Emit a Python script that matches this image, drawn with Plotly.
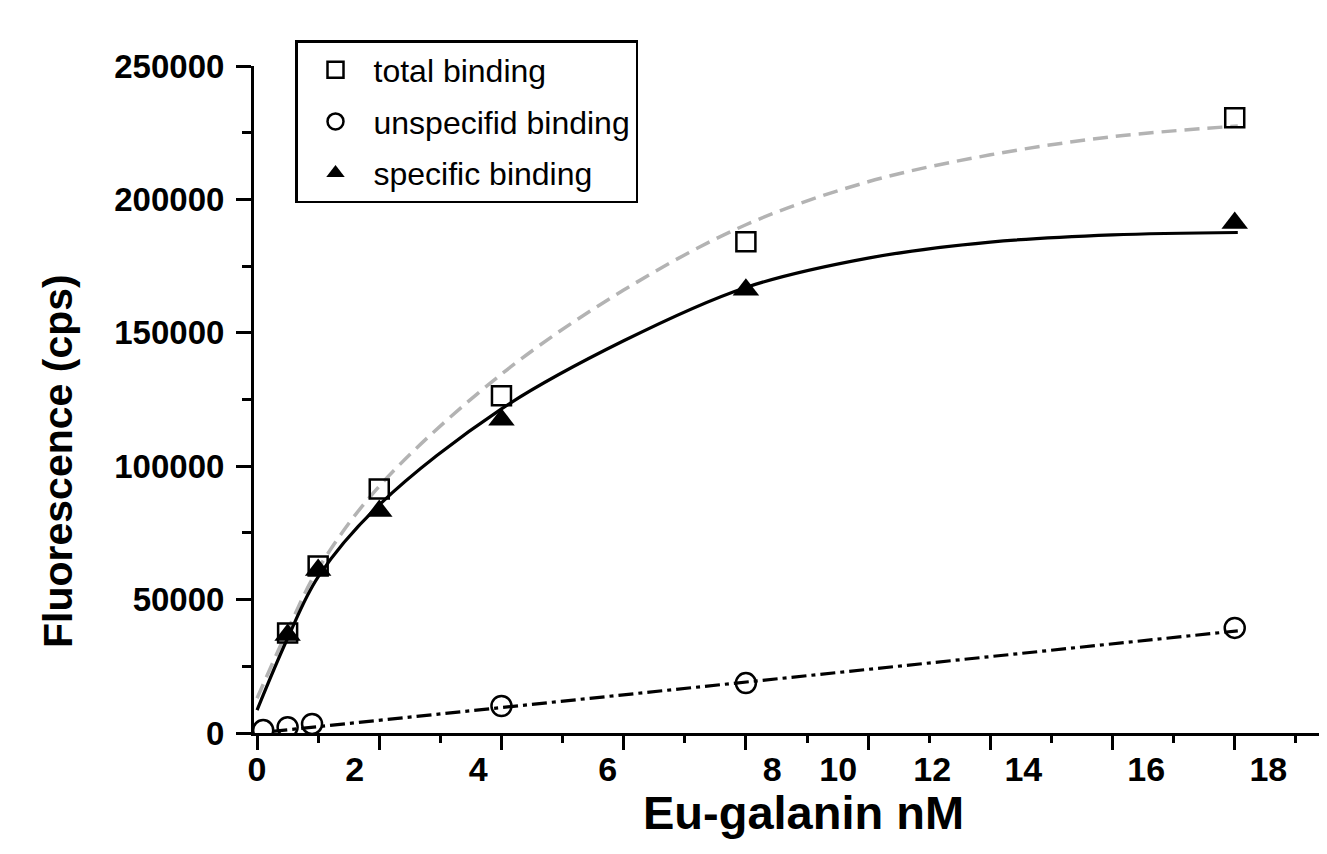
import plotly.graph_objects as go

# ---- data ----
conc = [0.5, 1, 2, 4, 8, 16]
total_binding = [37500, 62600, 91500, 126400, 184100, 230600]
specific_binding = [36700, 61100, 83200, 117400, 166100, 191200]

unspec_conc = [0.1, 0.5, 0.9, 4, 8, 16]
unspec_binding = [1100, 2200, 3400, 10100, 18700, 39400]

fit_x = [0, 0.5, 1, 2, 4, 6, 8, 10, 12, 14, 16.05]
total_fit = [13000, 38500, 61500, 92500, 134500, 166000, 190500, 206600, 216700, 223500, 227500]
specific_fit = [8600, 35500, 58500, 85500, 121500, 147000, 167000, 178000, 184000, 186700, 187600]

unspec_fit_x = [0.25, 16.05]
unspec_fit = [600, 38300]

x_major = [0, 2, 4, 6, 8, 10, 12, 14, 16]
x_minor = [1, 3, 5, 7, 9, 11, 13, 15, 17]
x_label_pos = [0, 1.6, 3.62, 5.74, 8.43, 9.51, 11.05, 12.54, 14.55, 16.55]
x_label_text = ["0", "2", "4", "6", "8", "10", "12", "14", "16", "18"]

y_major = [0, 50000, 100000, 150000, 200000, 250000]
y_major_text = ["0", "50000", "100000", "150000", "200000", "250000"]
y_minor = [25000, 75000, 125000, 175000, 225000]

FONT = "Liberation Sans, Arial, Helvetica, sans-serif"

# the page body adds an 8px offset; compensate so the plot lands where the reference has it
OFF = 8
W, H = 1327 - OFF, 854 - OFF
L, R, T, B = 254 - OFF, 0, 66 - OFF, 121
PW, PH = W - L - R, H - T - B


def px_x(px):
    return (px - OFF - L) / PW


def px_y(py):
    return (OFF + H - B - py) / PH


fig = go.Figure()

# fit curves
fig.add_trace(go.Scatter(x=fit_x, y=total_fit, mode="lines", showlegend=False,
                         line=dict(color="#b3b3b3", width=3.5, dash="15px,8px", shape="spline", smoothing=1.0),
                         hoverinfo="skip"))
fig.add_trace(go.Scatter(x=fit_x, y=specific_fit, mode="lines", showlegend=False,
                         line=dict(color="black", width=3.2, shape="spline", smoothing=1.0),
                         hoverinfo="skip"))
fig.add_trace(go.Scatter(x=unspec_fit_x, y=unspec_fit, mode="lines", showlegend=False,
                         xaxis="x2",
                         line=dict(color="black", width=3.2, dash="15px,5px,4px,5px"),
                         hoverinfo="skip"))

# data points
fig.add_trace(go.Scatter(x=conc, y=total_binding, mode="markers", name="total binding",
                         legendgroup="a",
                         marker=dict(symbol="square-open", size=19, color="black",
                                     line=dict(width=2.5, color="black"))))
fig.add_trace(go.Scatter(x=unspec_conc, y=unspec_binding, mode="markers", name="unspecifid binding",
                         legendgroup="b",
                         marker=dict(symbol="circle-open", size=20, color="black",
                                     line=dict(width=2.5, color="black"))))
fig.add_trace(go.Scatter(x=conc, y=specific_binding, mode="markers", name="specific binding",
                         legendgroup="c",
                         marker=dict(symbol="triangle-up", size=23, color="black",
                                     line=dict(width=0))))

xr = [-0.05, 17.51]
fig.update_layout(
    width=W, height=H,
    margin=dict(l=L, r=R, t=T, b=B, pad=0),
    paper_bgcolor="white", plot_bgcolor="white",
    font=dict(family=FONT, color="black"),
    xaxis=dict(range=xr, showgrid=False, zeroline=False, showline=True, linecolor="black", linewidth=3,
               tickmode="array", tickvals=x_major, ticks="outside", ticklen=14, tickwidth=2.5,
               tickcolor="black", showticklabels=False,
               minor=dict(tickmode="array", tickvals=x_minor, ticks="outside", ticklen=7,
                          tickwidth=2.5, tickcolor="black", showgrid=False)),
    xaxis2=dict(range=xr, overlaying="x", anchor="y", side="bottom", showgrid=False, zeroline=False,
                showline=False, tickmode="array", tickvals=x_label_pos, ticktext=x_label_text,
                ticks="", ticklabelstandoff=13,
                tickfont=dict(family=FONT, size=34, weight="bold", color="black")),
    yaxis=dict(range=[0, 250000], showgrid=False, zeroline=False, showline=True, linecolor="black",
               linewidth=3, tickmode="array", tickvals=y_major, ticktext=y_major_text,
               ticks="outside", ticklen=15, tickwidth=2.5, tickcolor="black", ticklabelstandoff=5,
               tickfont=dict(family=FONT, size=33, weight="bold", color="black"),
               minor=dict(tickmode="array", tickvals=y_minor, ticks="outside", ticklen=9,
                          tickwidth=2.5, tickcolor="black", showgrid=False)),
    legend=dict(x=px_x(295), y=px_y(40), xanchor="left", yanchor="top",
                bordercolor="black", borderwidth=2.5, bgcolor="white",
                font=dict(family=FONT, size=32, color="black"),
                tracegroupgap=7, itemwidth=66),
    annotations=[
        dict(text="<b>Fluorescence (cps)</b>", xref="paper", yref="paper",
             x=px_x(58), y=px_y(461), textangle=-90,
             showarrow=False, font=dict(family=FONT, size=41, color="black"),
             xanchor="center", yanchor="middle"),
        dict(text="<b>Eu-galanin nM</b>", xref="paper", yref="paper",
             x=px_x(803), y=px_y(812),
             showarrow=False, font=dict(family=FONT, size=47, color="black"),
             xanchor="center", yanchor="middle"),
    ],
)

fig.write_html("out.html")
